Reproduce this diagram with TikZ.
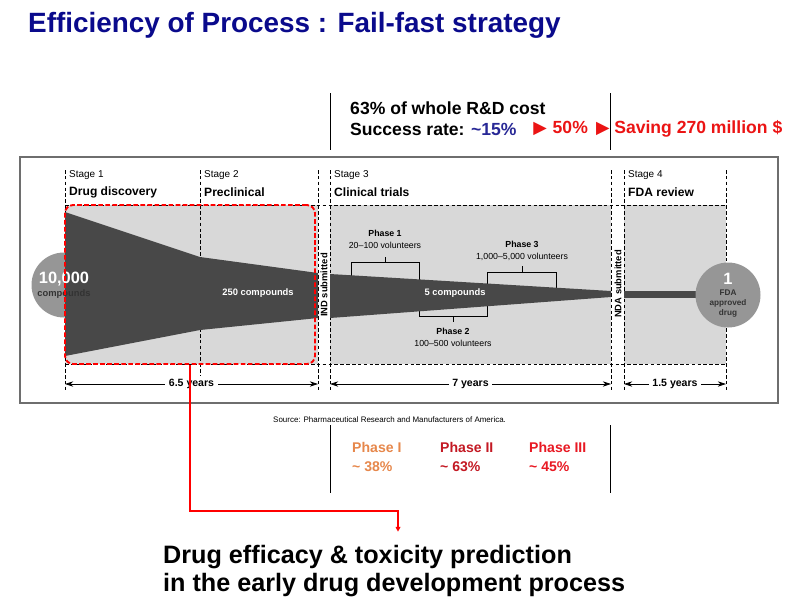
\documentclass[tikz,border=0pt]{standalone}
\usepackage{fontspec}
\setmainfont{Liberation Sans}
\newfontfamily\symfont{DejaVu Sans}
\usepackage{xcolor}
\usetikzlibrary{arrows.meta,positioning,fit}

\definecolor{titleblue}{RGB}{10,10,140}
\definecolor{rateblue}{RGB}{40,40,150}
\definecolor{alertred}{RGB}{235,20,20}
\definecolor{phaseone}{RGB}{230,135,75}
\definecolor{phasetwo}{RGB}{195,25,35}
\definecolor{phasethree}{RGB}{232,25,35}
\definecolor{panelgray}{RGB}{216,216,216}
\definecolor{funnelgray}{RGB}{72,72,72}
\definecolor{bubblegray}{RGB}{150,150,150}
\definecolor{framegray}{RGB}{110,110,110}

\begin{document}
\begin{tikzpicture}[x=0.3mm, y=-0.3mm,
    note/.style={inner sep=0pt, font=\fontsize{15}{18}\selectfont\bfseries},
    stagehead/.style={anchor=west, inner sep=0pt, font=\fontsize{8.5}{10}\selectfont},
    stagename/.style={anchor=west, inner sep=0pt, font=\fontsize{10.3}{12}\selectfont\bfseries},
    guide/.style={line width=0.5pt, dash pattern=on 3pt off 2pt},
    bracket/.style={line width=0.5pt},
    phaselabel/.style={align=center, inner sep=0pt, font=\fontsize{7.5}{10}\selectfont},
    flowtext/.style={inner sep=0pt, text=white, font=\fontsize{8}{10}\selectfont\bfseries},
    bubble/.style={circle, fill=bubblegray, minimum size=19.5mm, inner sep=0pt},
    submitted/.style={rotate=90, inner sep=0pt, font=\fontsize{8}{10}\selectfont\bfseries},
    dim/.style={{Stealth[length=7pt,width=4.5pt]}-{Stealth[length=7pt,width=4.5pt]}, line width=0.6pt},
    years/.style={fill=white, inner sep=3pt, font=\fontsize{9}{10}\selectfont\bfseries},
    earlybox/.style={draw=red, line width=1.6pt, dash pattern=on 4pt off 2pt, rounded corners=7pt, inner sep=0pt},
    redlink/.style={draw=red, line width=0.9pt, -{Triangle[length=4pt,width=4pt]}},
    rate/.style={anchor=west, align=left, inner sep=0pt, font=\fontsize{12}{16}\selectfont\bfseries}
  ]
    \useasboundingbox (0,0) rectangle (803,610);

    \node[anchor=west, inner sep=0pt, text=titleblue, font=\fontsize{23.8}{28}\selectfont\bfseries] (title) at (28,25) {Efficiency of Process : Fail-fast strategy};

    % clinical stage cost
    \draw (330,93) -- (330,150);
    \draw (610,93) -- (610,150);
    \node[note, anchor=west] (cost) at (350,108) {63\% of whole R\&D cost};
    \node[note, anchor=west] (rate) at (350,129) {Success rate: \textcolor{rateblue}{\textasciitilde15\%}};
    \node[note, text=alertred, right=14pt of rate] (gain) {{\symfont\fontsize{15}{15}\selectfont ▶}\hspace{5pt}50\%\hspace{7pt}{\symfont\fontsize{15}{15}\selectfont ▶}\hspace{4pt}Saving 270 million \$};

    % pipeline
    \draw[framegray, line width=1.2pt] (20,157) rectangle (778,403);
    \fill[panelgray] (65,205) rectangle (318,364);
    \fill[panelgray] (330,205) rectangle (611,364);
    \fill[panelgray] (624,205) rectangle (726,364);
    \draw[guide] (65,205) -- (726,205);
    \draw[guide] (65,364) -- (726,364);
    \draw[guide] (65,170) -- (65,390);
    \draw[guide] (200,170) -- (200,390);
    \draw[guide] (318,170) -- (318,390);
    \draw[guide] (330,170) -- (330,390);
    \draw[guide] (611,170) -- (611,390);
    \draw[guide] (624,170) -- (624,390);
    \draw[guide] (726,170) -- (726,390);

    \node[stagehead] (s1) at (69,175) {Stage 1};
    \node[stagename] (n1) at (69,192) {Drug discovery};
    \node[stagehead] (s2) at (204,175) {Stage 2};
    \node[stagename] (n2) at (204,192) {Preclinical};
    \node[stagehead] (s3) at (334,175) {Stage 3};
    \node[stagename] (n3) at (334,192) {Clinical trials};
    \node[stagehead] (s4) at (628,175) {Stage 4};
    \node[stagename] (n4) at (628,192) {FDA review};

    % phase brackets
    \draw[bracket] (351,277) -- (351,262) -- (419,262) -- (419,300);
    \draw[bracket] (385,262) -- (385,257);
    \draw[bracket] (487,290) -- (487,272) -- (556,272) -- (556,290);
    \draw[bracket] (522,272) -- (522,266);
    \draw[bracket] (419,300) -- (419,316) -- (487,316) -- (487,290);
    \draw[bracket] (453,316) -- (453,322);
    \node[phaselabel] (ph1) at (385,239) {\textbf{Phase 1}\\20--100 volunteers};
    \node[phaselabel] (ph3) at (522,251) {\textbf{Phase 3}\\1,000--5,000 volunteers};
    \node[phaselabel] (ph2) at (453,337) {\textbf{Phase 2}\\100--500 volunteers};

    % funnel
    \node[bubble] (start) at (64,285) {};
    \fill[funnelgray] (65,212) -- (200,257) -- (318,273) -- (318,318) -- (200,330) -- (65,356) -- cycle;
    \fill[funnelgray] (330,274) -- (611,291) -- (611,297) -- (330,318) -- cycle;
    \fill[funnelgray] (624,291) -- (700,291) -- (700,298) -- (624,298) -- cycle;
    \node[align=center, inner sep=0pt] (startlabel) at (start) {\textcolor{white}{\fontsize{14}{14}\selectfont\bfseries 10,000}\\[-1pt]\textcolor{black!80}{\fontsize{8}{8}\selectfont\bfseries compounds}};
    \node[bubble, align=center, text=black!80, font=\fontsize{7}{8.5}\selectfont\bfseries] (drug) at (728,295) {\textcolor{white}{\fontsize{14}{14}\selectfont 1}\\[1pt]FDA\\approved\\drug};
    \node[flowtext] (pre) at (258,293) {250 compounds};
    \node[flowtext] (clin) at (455,293) {5 compounds};
    \node[submitted] (ind) at (324,285) {IND submitted};
    \node[submitted] (nda) at (618,284) {NDA submitted};

    % durations
    \coordinate (d0) at (65,384);
    \coordinate (d1) at (318,384);
    \coordinate (d2) at (330,384);
    \coordinate (d3) at (611,384);
    \coordinate (d4) at (624,384);
    \coordinate (d5) at (726,384);
    \draw[dim] (d0) -- node[years] {6.5 years} (d1);
    \draw[dim] (d2) -- node[years] {7 years} (d3);
    \draw[dim] (d4) -- node[years] {1.5 years} (d5);

    \node[anchor=west, inner sep=0pt, font=\fontsize{6.8}{8}\selectfont] (source) at (273,420) {Source: Pharmaceutical Research and Manufacturers of America.};

    % success per phase
    \draw (330,425) -- (330,493);
    \draw (610,425) -- (610,493);
    \node[rate, text=phaseone] (r1) at (352,457) {Phase I\\\textasciitilde{} 38\%};
    \node[rate, text=phasetwo] (r2) at (440,457) {Phase II\\\textasciitilde{} 63\%};
    \node[rate, text=phasethree] (r3) at (529,457) {Phase III\\\textasciitilde{} 45\%};

    % early stage focus
    \node[earlybox, fit={(65,205) (315,364)}] (early) {};
    \node[anchor=north west, align=left, inner sep=0pt, font=\fontsize{21.5}{24}\selectfont\bfseries] (goal) at (163,545) {Drug efficacy \& toxicity prediction\\in the early drug development process};
    \coordinate (turn) at (398,511);
    \draw[redlink, shorten >=4mm] (early.south) |- (turn) -- (turn |- goal.north);
  \end{tikzpicture}
\end{document}
